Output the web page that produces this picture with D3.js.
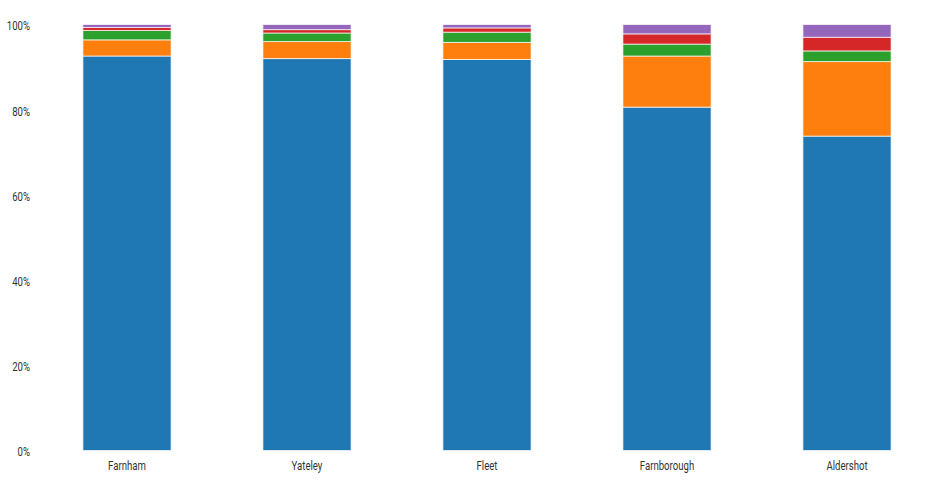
<!DOCTYPE html>
<html><head><meta charset="utf-8">
<script src="https://cdn.jsdelivr.net/npm/d3@7"></script>
<style>
body{margin:0;background:#fff;}
text{font-family:"Liberation Sans Narrow","Arial Narrow","Roboto",sans-serif;}
</style></head>
<body><svg id="c" width="942" height="480"></svg>
<script>
const categories = ["Farnham","Yateley","Fleet","Farnborough","Aldershot"];
const seriesNames = ["s1","s2","s3","s4","s5"];
const colors = ["#1f77b4","#ff7f0e","#2ca02c","#d62728","#9467bd"];
const s1 = [0.926,0.920,0.918,0.806,0.738];
const s2 = [0.038,0.040,0.040,0.120,0.175];
const s3 = [0.022,0.020,0.024,0.028,0.025];
const s4 = [0.007,0.008,0.010,0.024,0.032];
const s5 = [0.007,0.012,0.008,0.022,0.030];
const yTicks = [0,0.2,0.4,0.6,0.8,1.0];

const seriesVals = [s1,s2,s3,s4,s5];
const rows = categories.map((c,i)=>{
  const r={cat:c};
  seriesNames.forEach((s,j)=>r[s]=seriesVals[j][i]);
  return r;
});
const svg = d3.select("#c");
const mLeft=37,mRight=937,mTop=24.5,mBottom=450.5;
const x = d3.scaleBand().domain(categories).range([mLeft,mRight]).paddingInner(0.51).paddingOuter(0.255);
const y = d3.scaleLinear().domain([0,1]).range([mBottom,mTop]);
const stack = d3.stack().keys(seriesNames)(rows);

svg.append("g").selectAll("g").data(stack).join("g")
  .attr("fill",(d,i)=>colors[i])
  .selectAll("rect").data(d=>d).join("rect")
  .attr("x",d=>x(d.data.cat))
  .attr("width",x.bandwidth())
  .attr("y",d=>y(d[1]))
  .attr("height",d=>y(d[0])-y(d[1]))
  .attr("stroke","#fff").attr("stroke-opacity",0.7).attr("stroke-width",1);

const ya = svg.append("g").attr("transform",`translate(${mLeft-7},1.5)`)
  .call(d3.axisLeft(y).tickValues(yTicks).tickFormat(d3.format(".0%")).tickSize(0).tickPadding(0));
ya.select(".domain").remove();
ya.selectAll("text").attr("fill","#333").attr("font-size",12).attr("transform","scale(0.8,1)");

const xa = svg.append("g").attr("transform",`translate(0,${mBottom+8})`)
  .call(d3.axisBottom(x).tickSize(0).tickPadding(3));
xa.select(".domain").remove();
xa.selectAll("text").attr("fill","#333").attr("font-size",12).attr("transform","scale(0.8,1)");
</script></body></html>
